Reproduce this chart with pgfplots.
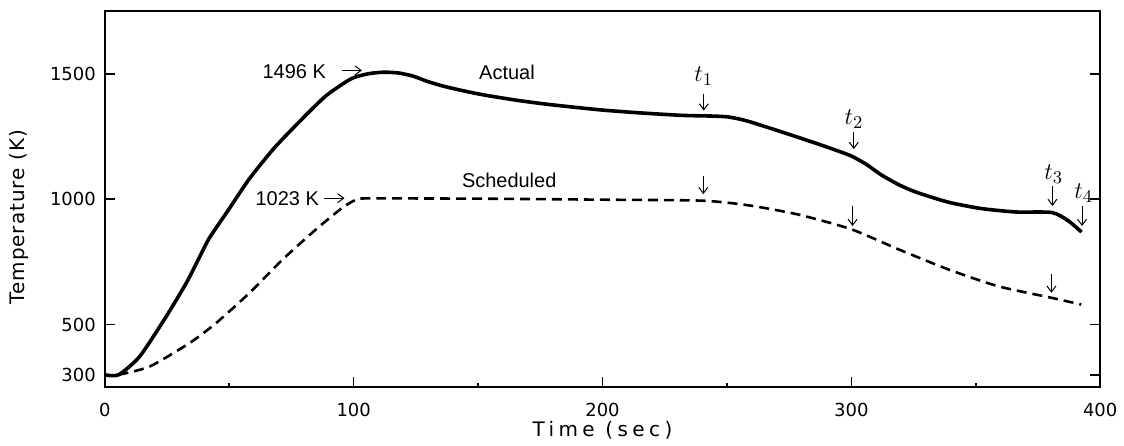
\documentclass[border=0pt]{standalone}
\usepackage{fontspec}
\setmainfont{Liberation Sans}
\newfontfamily\tickfont{DejaVu Sans}
\newfontfamily\ylabfont[LetterSpace=5]{DejaVu Sans}
\newfontfamily\xlabfont[LetterSpace=22]{DejaVu Sans}
\usepackage{pgfplots}
\usepackage{pgfplotstable}
\pgfplotsset{compat=1.18}
\usetikzlibrary{arrows.meta}

% Actual temperature (K) vs time (s)
\pgfplotstableread{
x y
0 300
5.5 300
14 373
24.7 533
32.8 667
38.1 770
42 845
50 962
58 1080
68 1203
79.5 1322
89 1413
99 1480
106 1500
112 1506
118 1503
124 1490
130 1468
137 1448
145 1430
152 1416
165 1395
178 1378
199 1356
215 1344
232 1334
245 1331
251 1327
258 1312
272 1268
286 1222
293 1198
300 1172
306 1139
312 1097
319 1058
326 1028
339 988
352 963
366 949
380.5 947
387 915
392.5 869
}\actual

% Scheduled temperature
\pgfplotstableread{
x y
5.5 300
18 333
34.1 427
44.8 507
58.2 627
71.5 760
84.9 880
95.6 967
101 998
105 1003
150 1002
200 998
240 994
259 975
279 938
300 880
319 800
339 720
359 653
380.4 607
392.4 580
}\scheduled

\tikzset{ann/.style={-{Straight Barb[length=3pt,width=4.5pt]}, line width=0.5pt}}

\begin{document}
\begin{tikzpicture}
\begin{axis}[
  scale only axis,
  width=498.5pt, height=188.5pt,
  xmin=0, xmax=400, ymin=250, ymax=1750,
  clip=false,
  axis line style={line width=1pt},
  xtick={0,100,200,300,400},
  ytick={300,500,1000,1500},
  minor x tick num=1,
  xtick pos=bottom,
  ytick pos=both, yticklabel pos=left,
  tick align=inside,
  major tick length=5pt, minor tick length=2pt,
  every tick/.style={black, line width=0.8pt},
  /pgf/number format/assume math mode=true,
  /pgf/number format/1000 sep={},
  tick label style={font=\tickfont\fontsize{9}{10}\selectfont},
  xticklabel style={yshift=-4.5pt},
  yticklabel style={xshift=-1pt},
  xlabel={Time (sec)},
  ylabel={Temperature (K)},
  xlabel style={font=\xlabfont\fontsize{10}{12}\selectfont, at={(axis description cs:0.5,0)}, anchor=base, yshift=-24.5pt},
  ylabel style={font=\ylabfont\fontsize{10}{12}\selectfont, at={(axis description cs:-0.0863,0.452)}, anchor=center},
]
\addplot[black, line width=1.8pt, smooth, tension=0.4] table[x=x,y=y]{\actual};
\addplot[black, line width=1.3pt, dash pattern=on 5pt off 3pt, smooth, tension=0.4] table[x=x,y=y]{\scheduled};

\node[anchor=east, inner sep=0, font=\fontsize{10}{11}\selectfont] at (axis cs:89,1507) {1496 K};
\draw[ann] (axis cs:95.3,1513) -- (axis cs:103.3,1513);
\node[anchor=east, inner sep=0, font=\fontsize{10}{11}\selectfont] at (axis cs:86.2,1003) {1023 K};
\draw[ann] (axis cs:88.2,1004) -- (axis cs:96.3,1004);
\node[font=\fontsize{10}{11}\selectfont] at (axis cs:161.6,1507) {Actual};
\node[font=\fontsize{10}{11}\selectfont] at (axis cs:162.5,1073) {Scheduled};

\node[font=\fontsize{13}{14}\selectfont] at (axis cs:240.7,1491) {$t_1$};
\node[font=\fontsize{13}{14}\selectfont] at (axis cs:301.1,1320) {$t_2$};
\node[font=\fontsize{13}{14}\selectfont] at (axis cs:381.3,1100) {$t_3$};
\node[font=\fontsize{13}{14}\selectfont] at (axis cs:393.4,1024) {$t_4$};

\draw[ann] (axis cs:240.7,1420) -- (axis cs:240.7,1353);
\draw[ann] (axis cs:301,1267) -- (axis cs:301,1200);
\draw[ann] (axis cs:380.8,1053) -- (axis cs:380.8,973);
\draw[ann] (axis cs:392.7,973) -- (axis cs:392.7,893);
\draw[ann] (axis cs:240.5,1093) -- (axis cs:240.5,1020);
\draw[ann] (axis cs:300.5,973) -- (axis cs:300.5,893);
\draw[ann] (axis cs:380.4,700) -- (axis cs:380.4,627);
\end{axis}
\path (-52.5pt,-29pt) rectangle (509.5pt,194pt);
\end{tikzpicture}
\end{document}
